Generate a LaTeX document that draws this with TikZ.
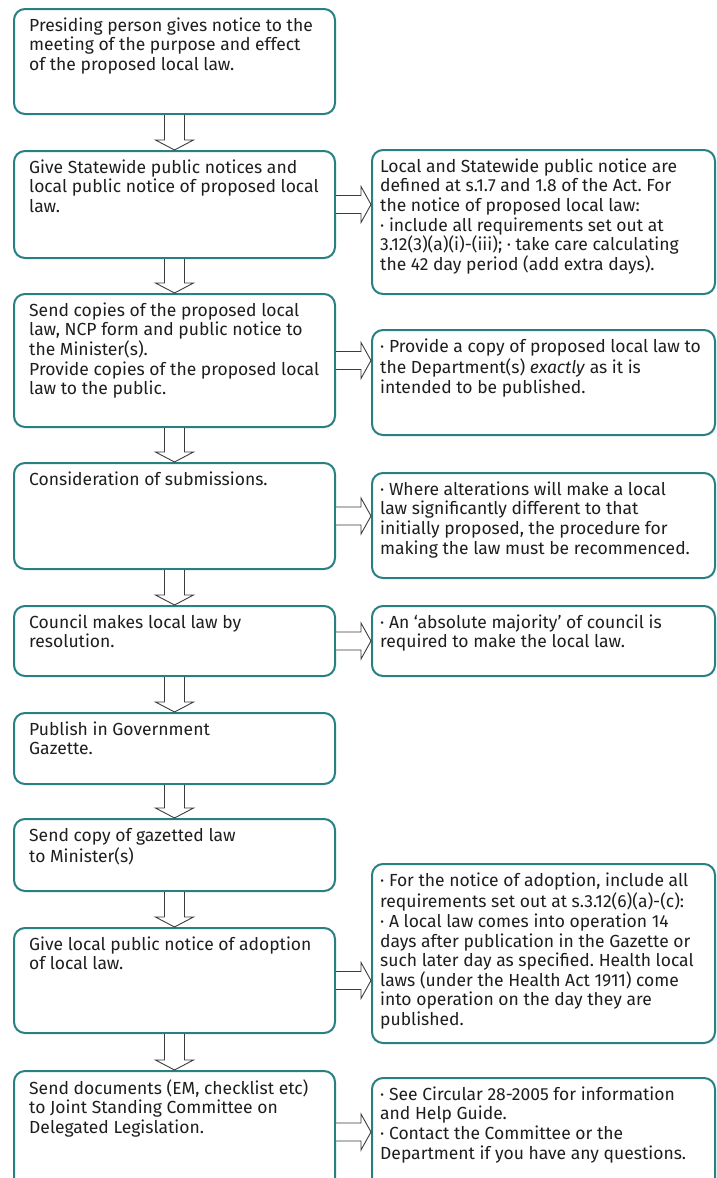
\documentclass[tikz,border=0pt]{standalone}
\usepackage{fontspec}
\setmainfont{Fira Sans}
\frenchspacing
\usetikzlibrary{calc}
\definecolor{boxteal}{RGB}{40,128,130}
\definecolor{txtgrey}{RGB}{30,30,30}
\definecolor{arrgrey}{RGB}{60,60,60}
\tikzset{
  box/.style={draw=boxteal, line width=2pt, rounded corners=11pt, fill=white, inner sep=0pt, anchor=north west},
  lbox/.style={box, minimum width=321pt},
  rbox/.style={box, minimum width=343pt},
  txt/.style={anchor=north west, inner sep=0pt, align=left, text=txtgrey, font=\fontsize{17.5}{19.6}\selectfont},
  blockarrow/.style={draw=arrgrey, line width=0.9pt, fill=white, line join=miter},
}
\newcommand\darr[2]{%
  \draw[blockarrow] ($(#1.south)+(-10,0)$) -- ($(#2.north)+(-10,-10)$) -- ($(#2.north)+(-19,-10)$) -- (#2.north) -- ($(#2.north)+(19,-10)$) -- ($(#2.north)+(10,-10)$) -- ($(#1.south)+(10,0)$);}
\newcommand\rarr[2]{%
  \coordinate (#1tip) at (#2.west|-#1.east);
  \draw[blockarrow] ($(#1.east)+(0,-9)$) -- ($(#1tip)+(-10,-9)$) -- ($(#1tip)+(-10,-18)$) -- (#1tip) -- ($(#1tip)+(-10,18)$) -- ($(#1tip)+(-10,9)$) -- ($(#1.east)+(0,9)$);}
\begin{document}
\begin{tikzpicture}[x=1pt,y=-1pt]
\clip (0,0) rectangle (716,1178);
\fill[white] (0,0) rectangle (716,1178);
% left boxes
\node[lbox, minimum height=105pt] (L1) at (13,8) {};
\node[lbox, minimum height=107pt] (L2) at (13,150) {};
\node[lbox, minimum height=133pt] (L3) at (13,293) {};
\node[lbox, minimum height=106pt] (L4) at (13,462) {};
\node[lbox, minimum height=70pt] (L5) at (13,605) {};
\node[lbox, minimum height=71pt] (L6) at (13,712) {};
\node[lbox, minimum height=72pt] (L7) at (13,818) {};
\node[lbox, minimum height=105pt] (L8) at (13,927) {};
\node[lbox, minimum height=122pt] (L9) at (13,1070) {};
% right boxes
\node[rbox, minimum height=144pt] (R1) at (371,149) {};
\node[rbox, minimum height=105pt] (R2) at (371,329) {};
\node[rbox, minimum height=105pt] (R3) at (371,472) {};
\node[rbox, minimum height=70pt] (R4) at (371,605) {};
\node[rbox, minimum height=179pt] (R5) at (371,863) {};
\node[rbox, minimum height=115pt] (R6) at (371,1077) {};
% texts
\node[txt] (L1t) at ($(L1.north west)+(16,9.3)$) {\strut Presiding person gives notice to the\\meeting of the purpose and effect\\of the proposed local law.};
\node[txt] (L2t) at ($(L2.north west)+(16,9.3)$) {\strut Give Statewide public notices and\\local public notice of proposed local\\law.};
\node[txt] (L3t) at ($(L3.north west)+(16,9.3)$) {\strut Send copies of the proposed local\\law, NCP form and public notice to\\the Minister(s).\\Provide copies of the proposed local\\law to the public.};
\node[txt] (L4t) at ($(L4.north west)+(16,9.3)$) {\strut Consideration of submissions.};
\node[txt] (L5t) at ($(L5.north west)+(16,9.3)$) {\strut Council makes local law by\\resolution.};
\node[txt] (L6t) at ($(L6.north west)+(16,9.3)$) {\strut Publish in Government\\Gazette.};
\node[txt] (L7t) at ($(L7.north west)+(16,9.3)$) {\strut Send copy of gazetted law\\to Minister(s)};
\node[txt] (L8t) at ($(L8.north west)+(16,9.3)$) {\strut Give local public notice of adoption\\of local law.};
\node[txt] (L9t) at ($(L9.north west)+(16,9.3)$) {\strut Send documents (EM, checklist etc)\\to Joint Standing Committee on\\Delegated Legislation.};
\node[txt] (R1t) at ($(R1.north west)+(9,9.3)$) {\strut Local and Statewide public notice are\\defined at s.1.7 and 1.8 of the Act. For\\the notice of proposed local law:\\· include all requirements set out at\\3.12(3)(a)(i)-(iii); · take care calculating\\the 42 day period (add extra days).};
\node[txt] (R2t) at ($(R2.north west)+(9,9.3)$) {\strut · Provide a copy of proposed local law to\\the Department(s) \textit{exactly} as it is\\intended to be published.};
\node[txt] (R3t) at ($(R3.north west)+(9,9.3)$) {\strut · Where alterations will make a local\\law significantly different to that\\initially proposed, the procedure for\\making the law must be recommenced.};
\node[txt] (R4t) at ($(R4.north west)+(9,9.3)$) {\strut · An ‘absolute majority’ of council is\\required to make the local law.};
\node[txt] (R5t) at ($(R5.north west)+(9,9.3)$) {\strut · For the notice of adoption, include all\\requirements set out at s.3.12(6)(a)-(c):\\· A local law comes into operation 14\\days after publication in the Gazette or\\such later day as specified. Health local\\laws (under the Health Act 1911) come\\into operation on the day they are\\published.};
\node[txt] (R6t) at ($(R6.north west)+(9,9.3)$) {\strut · See Circular 28-2005 for information\\and Help Guide.\\· Contact the Committee or the\\Department if you have any questions.};
% down arrows
\darr{L1}{L2}
\darr{L2}{L3}
\darr{L3}{L4}
\darr{L4}{L5}
\darr{L5}{L6}
\darr{L6}{L7}
\darr{L7}{L8}
\darr{L8}{L9}
% right arrows
\rarr{L2}{R1}
\rarr{L3}{R2}
\rarr{L4}{R3}
\rarr{L5}{R4}
\rarr{L8}{R5}
\rarr{L9}{R6}
\end{tikzpicture}
\end{document}
